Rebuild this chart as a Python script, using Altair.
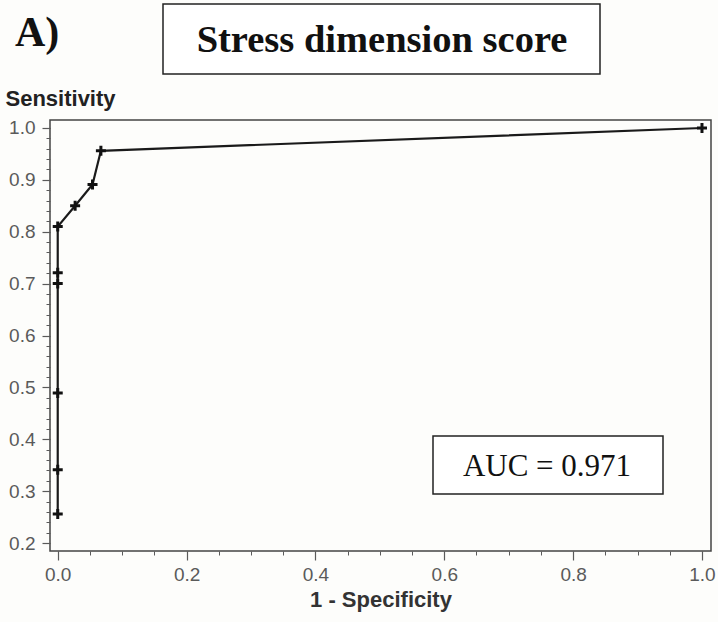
import altair as alt
import pandas as pd

# ROC curve points (1 - specificity, sensitivity)
fpr = [0.0, 0.0, 0.0, 0.0, 0.0, 0.0, 0.027, 0.054, 0.067, 1.0]
tpr = [0.256, 0.341, 0.489, 0.700, 0.721, 0.810, 0.850, 0.891, 0.956, 1.0]
order = list(range(len(fpr)))

x_major = [0.0, 0.2, 0.4, 0.6, 0.8, 1.0]
y_major = [0.2, 0.3, 0.4, 0.5, 0.6, 0.7, 0.8, 0.9, 1.0]
x_minor = [round(i * 0.05, 2) for i in range(21)]
y_minor = [round(0.2 + i * 0.02, 2) for i in range(41)]

df = pd.DataFrame({"fpr": fpr, "tpr": tpr, "order": order})

xs = alt.Scale(domain=[-0.012, 1.014], nice=False, zero=False)
ys = alt.Scale(domain=[0.1846, 1.0154], nice=False, zero=False)

label_font = "Liberation Sans"
gray = "#5a5a5a"

base = alt.Chart(df)

line = base.mark_line(color="#1a1a1a", strokeWidth=2.2).encode(
    x=alt.X("fpr:Q", scale=xs, axis=alt.Axis(
        values=x_major, format=".1f", orient="bottom", tickSize=9, tickColor=gray,
        tickWidth=1.2, labelFont=label_font, labelFontSize=19, labelColor=gray,
        labelPadding=5, domain=False, grid=False,
        title="1 - Specificity", titleFont=label_font, titleFontSize=22,
        titleFontWeight="bold", titleColor="#333333", titlePadding=5)),
    y=alt.Y("tpr:Q", scale=ys, axis=alt.Axis(
        values=y_major, format=".1f", orient="left", tickSize=8, tickColor=gray,
        tickWidth=1.2, labelFont=label_font, labelFontSize=19, labelColor=gray,
        labelPadding=7, domain=False, grid=False,
        title="Sensitivity", titleAngle=0, titleAlign="left", titleBaseline="middle",
        titleX=-45, titleY=-22, titleFont=label_font, titleFontSize=22,
        titleFontWeight="bold", titleColor="#222222")),
    order="order:O",
)

pts = base.mark_point(
    shape="M -1 0 L 1 0 M 0 -1 L 0 1", filled=False, color="#111111",
    strokeWidth=3, size=100, opacity=1
).encode(
    x=alt.X("fpr:Q", scale=xs, axis=alt.Axis(
        values=x_minor, labels=False, ticks=True, tickSize=4, tickColor=gray,
        domain=False, grid=False, title=None, orient="bottom")),
    y=alt.Y("tpr:Q", scale=ys, axis=alt.Axis(
        values=y_minor, labels=False, ticks=True, tickSize=4, tickColor=gray,
        domain=False, grid=False, title=None, orient="left")),
)

# Annotation boxes and texts (pixel positions relative to plot area)
ann = alt.Chart(pd.DataFrame({"a": [0]}))
title_box = ann.mark_rect(fill="white", stroke="#222222", strokeWidth=1.5).encode(
    x=alt.value(113), x2=alt.value(550), y=alt.value(-116), y2=alt.value(-46))
title_txt = ann.mark_text(text="Stress dimension score", font="Liberation Serif",
                          fontSize=38.5, fontWeight="bold", color="#111111",
                          align="center", baseline="middle").encode(
    x=alt.value(332), y=alt.value(-80))
a_txt = ann.mark_text(text="A)", font="Liberation Serif", fontSize=42,
                      fontWeight="bold", color="#111111", align="left",
                      baseline="middle").encode(x=alt.value(-35), y=alt.value(-87))
auc_box = ann.mark_rect(fill="white", stroke="#222222", strokeWidth=1.5).encode(
    x=alt.value(383), x2=alt.value(613), y=alt.value(316), y2=alt.value(374))
auc_txt = ann.mark_text(text="AUC = 0.971", font="Liberation Serif", fontSize=31,
                        color="#111111", align="center", baseline="middle").encode(
    x=alt.value(497), y=alt.value(347))

chart = alt.layer(line, pts, title_box, title_txt, a_txt, auc_box, auc_txt).resolve_axis(
    x="independent", y="independent"
).properties(
    width=661, height=431,
    autosize=alt.AutoSizeParams(type="none"),
    padding={"left": 50, "top": 120, "right": 7, "bottom": 71},
    background="#fdfdfb",
).configure_view(stroke="#444444", strokeWidth=1.5)

chart.save("out.html", embed_options={"renderer": "svg", "actions": False})
